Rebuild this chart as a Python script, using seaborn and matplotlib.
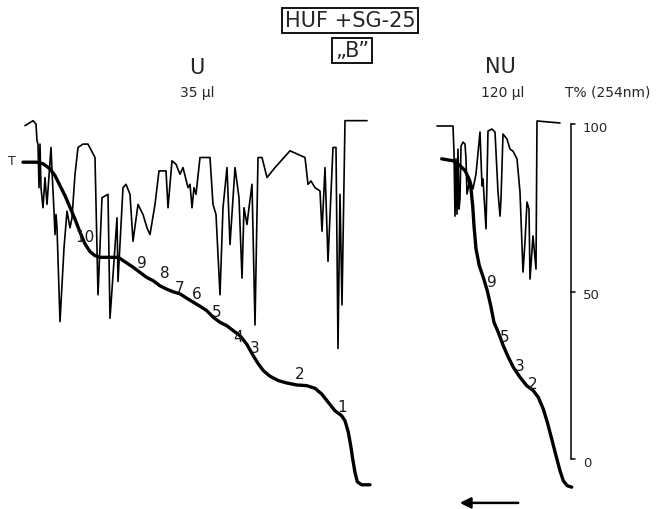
import seaborn as sns
import matplotlib.pyplot as plt
import pandas as pd

# position along the record (chart units) and transmission T% at 254 nm
u_uv_pos = [25, 33, 36, 37, 38, 39, 40, 41, 43, 45, 47, 51, 52, 54, 55, 56, 57, 60, 64, 67, 70,
            72, 75, 78, 83, 88, 95, 98, 102, 108, 110, 117, 118, 123, 126, 130, 133, 138, 143, 147, 150,
            155, 159, 166, 168, 172, 176, 180, 183, 188, 190, 192, 194, 196, 200, 210, 213, 216, 220, 223, 227,
            230, 235, 239, 242, 244, 247, 249, 252, 255, 258, 262, 267, 275, 290, 305, 308, 311, 315, 320, 322,
            325, 328, 333, 336, 338, 340, 342, 345, 367]
u_uv_t = [99.5, 101, 100, 95, 94, 81, 94, 81, 75, 84, 76, 93, 86, 74, 67, 73, 69, 41, 63, 74, 69,
          72, 85, 93, 94, 94, 90, 49, 78, 79, 42, 72, 53, 81, 82, 79, 65, 76, 73, 69, 67,
          76, 86, 86, 75, 89, 88, 85, 87, 81, 82, 75, 81, 79, 90, 90, 76, 73, 49, 75, 87,
          64, 87, 78, 54, 75, 70, 75, 82, 40, 90, 90, 84, 87, 92, 90, 82, 83, 81, 80, 68,
          87, 59, 93, 93, 33, 79, 46, 101, 101]

u_int_pos = [23, 36.7, 43.3, 50, 55, 60, 65, 70, 75, 80, 85, 90, 95, 100, 110, 118.3, 123.3, 128.3, 133.3, 140,
             146.7, 153.3, 160, 166.7, 173.3, 180, 186.7, 193.3, 200, 206.7, 213.3, 220, 226.7, 233.3, 240,
             246.7, 253.3, 258.3, 263.3, 270, 278.3, 286.7, 296.7, 306.7, 315, 321.7, 328.3, 335, 341.7, 345,
             348.3, 350.7, 352.7, 355, 357.3, 361.7, 370]
u_int_t = [88.6, 88.6, 88.1, 86.6, 84.6, 81.6, 78.6, 75.1, 71.6, 67.7, 64.2, 61.9, 60.7, 60.2, 60.2, 60.2, 59.2, 58.2, 57.2, 55.7,
           54.2, 53.2, 51.7, 50.7, 49.9, 49.3, 48.0, 46.8, 45.6, 44.3, 42.3, 40.8, 39.8, 38.3, 36.8,
           34.3, 30.8, 28.4, 26.4, 24.7, 23.4, 22.7, 22.1, 21.9, 21.1, 19.4, 16.9, 14.4, 12.9, 11.4,
           8.0, 4.0, 0.0, -4.0, -6.8, -7.7, -7.7]

nu_uv_pos = [437, 453, 454, 455, 456, 457, 458, 459, 460, 461, 463, 465, 466, 467, 470, 473, 476, 480, 482, 483,
             486, 488, 492, 495, 498, 500, 501, 503, 507, 510, 513, 517, 520, 523, 525, 527, 529, 530, 533, 536,
             537, 560]
nu_uv_t = [99.4, 99.4, 91.6, 72.5, 89.6, 73.1, 92.5, 74.6, 77.6, 93.4, 94.6, 94.0, 89.6, 79.1, 83.6, 80.6, 85.1, 97.6, 81.5, 83.6,
           68.7, 97.9, 98.5, 97.6, 79.7, 72.5, 77.6, 97.0, 95.5, 92.5, 91.9, 89.6, 79.7, 55.8, 64.8, 76.7, 74.6, 53.7, 66.6, 56.7,
           100.9, 100.3]

nu_int_pos = [441.7, 453.3, 460, 465, 468.3, 471, 472.7, 474, 476, 479.3, 483.3, 487.3, 490.7, 494, 498.3,
              503.3, 508.3, 513.3, 520, 526.7, 533.3, 538.3, 543.3, 547.3, 551.7, 556, 560, 563.3, 567.3, 571.7]
nu_int_t = [89.6, 89.0, 87.6, 86.1, 84.1, 80.6, 75.6, 69.6, 62.7, 57.7, 54.2, 50.2, 45.8, 40.8, 37.8,
            33.8, 30.4, 27.4, 24.4, 21.9, 20.4, 18.4, 14.9, 11.0, 6.0, 1.0, -3.5, -6.5, -8.0, -8.4]

# fraction numbers on the integral curves
u_frac = ['10', '9', '8', '7', '6', '5', '4', '3', '2', '1']
u_frac_pos = [85, 142, 165, 180, 197, 217, 238, 255, 300, 342]
u_frac_t = [66.3, 58.8, 55.8, 51.3, 49.3, 43.9, 36.7, 33.4, 25.4, 15.8]
nu_frac = ['9', '5', '3', '2']
nu_frac_pos = [492, 505, 520, 533]
nu_frac_t = [53.1, 36.7, 27.8, 22.4]

scale_ticks = [0, 50, 100]

sns.set_theme(style='white')
plt.rcParams['font.family'] = ['DejaVu Sans']

fig = plt.figure(figsize=(6.6, 5.1), dpi=100)
ax = fig.add_axes([0, 0, 1, 1])

traces = [(u_uv_pos, u_uv_t, 1.2), (u_int_pos, u_int_t, 2.4),
          (nu_uv_pos, nu_uv_t, 1.2), (nu_int_pos, nu_int_t, 2.4)]
for pos, t, lw in traces:
    df = pd.DataFrame({'pos': pos, 'T': t})
    sns.lineplot(data=df, x='pos', y='T', estimator=None, sort=False,
                 color='black', linewidth=lw, solid_joinstyle='round', ax=ax)

for lab, x, y in zip(u_frac, u_frac_pos, u_frac_t):
    ax.text(x, y, lab, fontsize=11, ha='center', va='center', color='#1a1a1a')
for lab, x, y in zip(nu_frac, nu_frac_pos, nu_frac_t):
    ax.text(x, y, lab, fontsize=11, ha='center', va='center', color='#1a1a1a')
ax.text(11.5, 89.0, 'T', fontsize=9, ha='center', va='center')

# T% scale on the right
ax.plot([571, 571], [min(scale_ticks), max(scale_ticks)], color='black', linewidth=1.1)
for v in scale_ticks:
    ax.plot([571, 575], [v, v], color='black', linewidth=1.1)
    ax.text(583, v - 1.0, str(v), fontsize=9.5, ha='left', va='center')

# direction arrow
ax.annotate('', xy=(457, -13.1), xytext=(521, -13.1),
            arrowprops=dict(arrowstyle='-|>', color='black', lw=1.8,
                            mutation_scale=16))

ax.set_xlim(0, 660)
ax.set_ylim((460 - 510) / 3.35, 460 / 3.35)
ax.axis('off')

box = dict(boxstyle='square,pad=0.12', fc='white', ec='black', lw=1.3)
fig.text(350 / 660, 1 - 21 / 510, 'HUF +SG-25', fontsize=15, ha='center', va='center', bbox=box)
fig.text(352 / 660, 1 - 51 / 510, '\u201eB\u201d', fontsize=15, ha='center', va='center', bbox=box)
fig.text(197 / 660, 1 - 68 / 510, 'U', fontsize=15, ha='center', va='center')
fig.text(197 / 660, 1 - 93 / 510, '35 \u03bcl', fontsize=10, ha='center', va='center')
fig.text(500 / 660, 1 - 67 / 510, 'NU', fontsize=15, ha='center', va='center')
fig.text(503 / 660, 1 - 93 / 510, '120 \u03bcl', fontsize=10, ha='center', va='center')
fig.text(608 / 660, 1 - 93 / 510, 'T% (254nm)', fontsize=10, ha='center', va='center')

fig.savefig('out.png', dpi=100, facecolor='white')
